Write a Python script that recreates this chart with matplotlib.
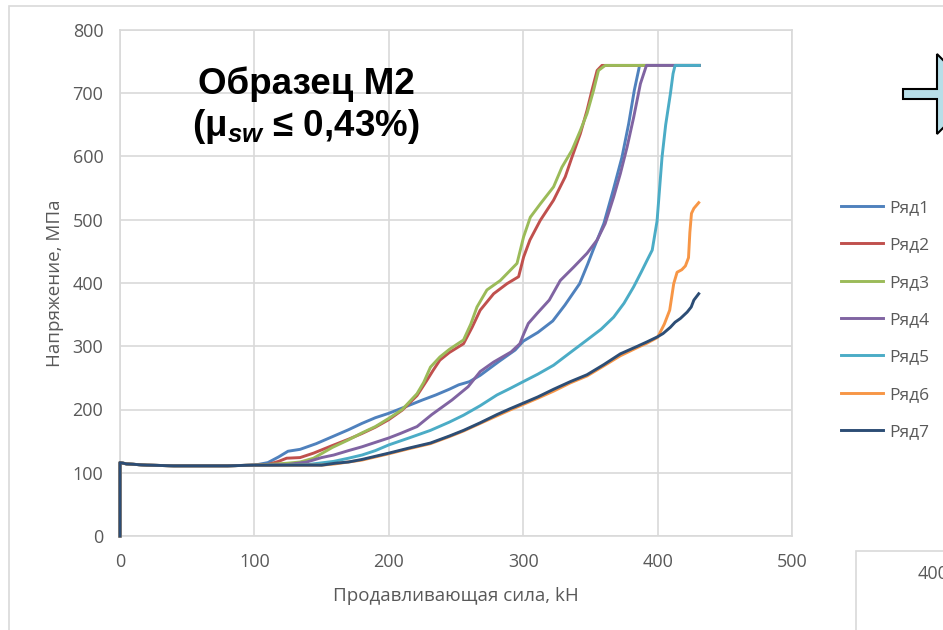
import matplotlib
matplotlib.use("Agg")
import matplotlib.pyplot as plt
from matplotlib.patches import Polygon, Rectangle

plt.rcParams['font.family'] = ['Open Sans', 'DejaVu Sans']
plt.rcParams['mathtext.fontset'] = 'custom'
plt.rcParams['mathtext.rm'] = 'Liberation Sans:bold'
plt.rcParams['mathtext.it'] = 'Liberation Sans:bold:italic'

# common start of all series (load 0..100 kN)
base_x = [0, 0, 5, 20, 40, 60, 80, 100]
base_y = [0, 116, 114, 112, 111, 111, 111, 112]

# Ряд1
r1_x = base_x + [110, 118, 125, 134, 146, 158, 170, 180, 190, 200, 212, 225, 235, 245, 252, 260,
                 268, 275, 282, 288, 294, 300, 311, 322, 331, 342, 348, 352, 360, 367, 373.5,
                 378.5, 382.7, 386.6, 431]
r1_y = base_y + [116, 125, 134, 137, 146, 157, 168, 178, 187, 194, 204, 215, 223, 232, 239, 244,
                 254, 265, 276, 285, 294, 308, 322, 340, 365, 399, 430, 452, 494, 547, 599,
                 652, 705, 744, 744]
# Ряд2
r2_x = base_x + [110, 118, 124, 134, 144, 158, 170, 180, 190, 200, 210, 221, 228, 233, 238, 245,
                 255.6, 262, 268, 278, 288, 296.6, 300.3, 305, 312.7, 322.6, 331.3, 336.3,
                 342.5, 347.5, 351.2, 355, 358.6, 431]
r2_y = base_y + [113, 118, 123, 124, 131, 143, 153, 162, 172, 184, 199, 222, 245, 262, 278, 290,
                 304, 330, 357, 383, 399, 410, 441, 468, 499, 531, 568, 599,
                 636, 673, 705, 736, 744, 744]
# Ряд3
r3_x = base_x + [110, 124, 134, 144, 158, 170, 180, 190, 200, 210, 221, 226, 231, 238, 245,
                 255.6, 261, 265.6, 273, 283, 295.4, 300.3, 305.3, 312.7, 322.6, 328.8, 336.3,
                 342.5, 347.5, 352.4, 356, 361, 431]
r3_y = base_y + [113, 115, 117, 123, 140, 152, 163, 173, 186, 200, 225, 243, 267, 283, 295,
                 310, 335, 362, 389, 404, 431, 473, 504, 525, 552, 583, 610,
                 641, 668, 705, 736, 744, 744]
# Ряд4
r4_x = base_x + [110, 125, 139, 150, 159, 170, 180, 190, 200, 208.5, 221, 232, 247, 259, 268,
                 278, 291, 297.5, 300.5, 303.8, 310.4, 319.4, 327.6, 337.5, 347.5, 355, 361,
                 367.3, 372.3, 377.3, 382.2, 387.2, 391.7, 431]
r4_y = base_y + [112, 113, 117, 124, 128, 135, 141, 148, 155, 162, 173, 192, 215, 236, 260,
                 275, 291, 304, 320, 336, 352, 373, 404, 425, 447, 468, 494,
                 536, 573, 615, 662, 715, 744, 744]
# Ряд5
r5_x = base_x + [110, 140, 159, 170, 180, 190, 200, 215, 231, 245, 255.6, 268, 280.5, 290, 300,
                 311, 322.6, 335, 347.5, 358, 367.3, 375, 382.2, 388, 392.2, 396, 399.6,
                 401.5, 403.3, 406, 409.5, 411.5, 413, 431]
r5_y = base_y + [112, 113, 118, 123, 128, 135, 144, 155, 167, 180, 191, 206, 223, 233, 244,
                 256, 270, 290, 310, 327, 346, 368, 394, 418, 436, 452, 498,
                 550, 599, 650, 699, 731, 744, 744]
# Ряд6
r6_x = base_x + [150, 160, 170, 180, 190, 200, 215, 231, 245, 255.6, 268, 280.5, 290, 300, 311,
                 322.6, 335, 347.5, 360, 372.3, 385, 392.2, 400, 405, 409, 412, 414.5, 418,
                 420.7, 423, 424, 425.2, 427, 430.6]
r6_y = base_y + [112, 114, 117, 120, 125, 130, 138, 146, 157, 166, 178, 190, 199, 208, 218,
                 229, 242, 253, 269, 285, 298, 305, 314, 335, 357, 399, 417, 421,
                 427, 440, 480, 510, 518, 527]
# Ряд7
r7_x = base_x + [150, 160, 170, 180, 190, 200, 215, 231, 245, 255.6, 268, 280.5, 290, 300, 311,
                 322.6, 335, 347.5, 360, 372.3, 385, 392.2, 400, 404, 409.5, 413, 417, 420,
                 422, 425, 427, 430.6]
r7_y = base_y + [112, 115, 117, 121, 126, 131, 139, 147, 158, 167, 179, 192, 201, 210, 220,
                 232, 244, 255, 271, 288, 300, 307, 315, 320, 330, 338, 344, 350,
                 354, 362, 373, 383]

series_x = [r1_x, r2_x, r3_x, r4_x, r5_x, r6_x, r7_x]
series_y = [r1_y, r2_y, r3_y, r4_y, r5_y, r6_y, r7_y]
labels = ['Ряд1', 'Ряд2', 'Ряд3', 'Ряд4', 'Ряд5', 'Ряд6', 'Ряд7']
colors = ['#4F81BD', '#C0504D', '#9BBB59', '#8064A2', '#4BACC6', '#F79646', '#2C4D75']

W, H = 943, 630
gray_txt = '#595959'
grid_c = '#D9D9D9'

fig = plt.figure(figsize=(W / 100, H / 100), dpi=100)
ax = fig.add_axes([120 / W, 1 - 536 / H, (792 - 120) / W, (536 - 30) / H])

for xs, ys, lab, c in zip(series_x, series_y, labels, colors):
    ax.plot(xs, ys, color=c, lw=2.1, label=lab, clip_on=False, solid_joinstyle='round', zorder=3)

ax.set_xlim(0, 500)
ax.set_ylim(0, 800)
ax.set_xticks(range(0, 501, 100))
ax.set_yticks(range(0, 801, 100))
ax.grid(True, color=grid_c, lw=1.2)
ax.set_axisbelow(True)
for s in ax.spines.values():
    s.set_color(grid_c)
    s.set_linewidth(1.2)
    s.set_zorder(1)
ax.tick_params(length=0, labelsize=13, labelcolor=gray_txt)
ax.tick_params(axis='x', pad=12)
ax.tick_params(axis='y', pad=12)
ax.set_xlabel('Продавливающая сила, kH', fontsize=13.5, color=gray_txt, labelpad=12)
ax.set_ylabel('Напряжение, МПа', fontsize=13.5, color=gray_txt, labelpad=6)

fig.legend(loc='upper left', bbox_to_anchor=(841 / W, 1 - 200 / H), frameon=False,
           borderpad=0, borderaxespad=0,
           fontsize=12.5, labelcolor=gray_txt, handlelength=2.4, handletextpad=0.4,
           labelspacing=1.22)

# title inside the plot
fig.text(306 / W, 1 - 94 / H, 'Образец М2', fontsize=26.5, fontweight='bold',
         family='Liberation Sans', ha='center', va='baseline')
fig.text(306 / W, 1 - 136 / H, '(μ$_{\\mathit{sw}}$ ≤ 0,43%)', fontsize=26.5,
         fontweight='bold', family='Liberation Sans', ha='center', va='baseline')

# outer chart border
fig.add_artist(Rectangle((9 / W, -0.05), 1.1, 1 - 6 / H + 0.05, transform=fig.transFigure,
                         fill=False, edgecolor=grid_c, lw=1.2, zorder=-1))

# neighbouring arrow shape (cut at right edge)
arrow_px = [(903, 89), (937, 89), (937, 54), (977, 94), (937, 134), (937, 99), (903, 99)]
fig.add_artist(Polygon([(px / W, 1 - py / H) for px, py in arrow_px], closed=True,
                       transform=fig.transFigure, facecolor='#B7DEE8', edgecolor='black', lw=1.5))

# neighbouring chart box at bottom right
fig.add_artist(Rectangle((856 / W, -0.05), 0.2, 1 - 551 / H + 0.05, transform=fig.transFigure,
                         facecolor='white', edgecolor=grid_c, lw=1.2))
fig.text(918 / W, 1 - 574 / H, '400', fontsize=13, color=gray_txt, va='center')

fig.savefig('out.png', dpi=100)
